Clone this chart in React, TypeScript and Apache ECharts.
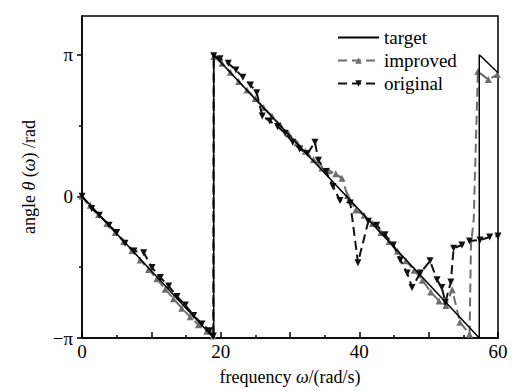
import React, { useEffect, useRef } from "react";
import * as echarts from "echarts";

const PI = Math.PI;

// target: ideal wrapped phase
const targetData: [number, number][] = [
  [0, 0], [19.0, -3.1416], [19.0, 3.1416], [57.3, -3.1416], [57.3, 3.1416], [60, 2.74],
];

// improved (grey, dashed, up triangles)
const improvedData: [number, number][] = [
  [0, 0], [1.2, -0.2], [2.4, -0.4], [3.6, -0.6], [4.8, -0.8], [6.0, -1.0], [7.2, -1.2],
  [8.4, -1.41], [9.6, -1.62], [10.8, -1.83], [12.0, -2.06], [13.2, -2.27], [14.4, -2.48],
  [15.6, -2.67], [16.8, -2.85], [18.0, -2.99], [18.9, -3.1],
  [19.0, 3.1], [20.2, 2.95], [21.4, 2.75], [22.6, 2.55], [23.8, 2.36], [25.0, 2.17],
  [26.2, 1.97], [27.4, 1.78], [28.6, 1.58], [29.8, 1.39], [31.0, 1.19], [32.2, 1.0],
  [33.4, 0.82], [34.6, 0.63], [35.6, 0.57], [36.6, 0.5], [37.5, 0.4], [38.3, 0.02],
  [39.5, -0.3], [40.7, -0.42], [41.9, -0.6], [43.1, -0.8], [44.3, -1.0], [45.5, -1.22],
  [46.7, -1.43], [47.9, -1.64], [49.1, -1.86], [50.3, -2.12], [51.5, -2.32], [52.5, -2.42],
  [53.4, -2.07], [54.5, -2.79], [55.9, -3.06], [56.1, -1.1], [56.5, -0.5], [57.1, 2.77],
  [58.6, 2.59], [59.9, 2.7],
];
const improvedNoMarker: number[] = [50, 51];

// original (black, dashed, down triangles)
const originalData: [number, number][] = [
  [0, 0], [1.4, -0.27], [2.5, -0.42], [3.9, -0.64], [5.0, -0.8], [6.2, -1.04], [7.5, -1.21],
  [8.9, -1.25], [10.1, -1.58], [11.3, -1.8], [12.5, -1.99], [13.7, -2.22], [14.9, -2.41],
  [16.1, -2.64], [17.3, -2.83], [18.4, -2.98], [18.95, -3.1],
  [19.0, 3.12], [19.9, 3.05], [21.1, 2.95], [22.2, 2.8], [23.2, 2.64], [24.3, 2.47],
  [25.2, 2.3], [26.0, 1.78], [27.1, 1.67], [28.2, 1.55], [29.3, 1.4], [30.4, 1.2],
  [31.4, 1.05], [32.5, 0.95], [33.6, 1.2], [34.1, 0.8], [35.2, 0.55], [36.2, 0.22],
  [37.2, -0.09], [38.7, -0.15], [39.8, -1.47], [41.3, -0.55], [42.5, -0.64], [43.7, -0.85],
  [44.9, -1.08], [45.9, -1.41], [46.9, -1.7], [47.6, -2.02], [48.8, -1.7], [50.2, -1.43],
  [51.2, -1.85], [51.9, -2.02], [52.4, -2.35], [53.2, -1.9], [53.6, -1.15], [54.8, -1.08],
  [55.9, -0.99], [57.4, -0.97], [58.8, -0.9], [60, -0.88],
];

const xLabelValues = [0, 20, 40, 60];
const xMajorTicks = [0, 10, 20, 30, 40, 50, 60];
const xMinorTicks = [5, 15, 25, 35, 45, 55];
const yLabelValues = [-PI, 0, PI];
const yMinorTicks = [-PI / 2, PI / 2];

const FONT = "'Liberation Serif', 'Times New Roman', serif";

export default function App() {
  const ref = useRef<HTMLDivElement>(null);
  useEffect(() => {
    if (!ref.current) return;
    const chart = echarts.init(ref.current, undefined, { renderer: "svg" });
    const yFmt = (v: number) =>
      Math.abs(v - PI) < 1e-6 ? "π" : Math.abs(v + PI) < 1e-6 ? "−π" : "0";
    const rich = { i: { fontStyle: "italic", fontSize: 18, fontFamily: FONT, color: "#000" } };
    chart.setOption({
      animation: false,
      backgroundColor: "#fff",
      textStyle: { fontFamily: FONT },
      grid: { left: 82, right: 22, top: 16, bottom: 50, show: true, borderColor: "#000", borderWidth: 1.5 },
      legend: {
        left: 337,
        top: 28,
        orient: "vertical",
        padding: 0,
        itemWidth: 41,
        itemHeight: 8,
        itemGap: 4,
        data: [
          { name: "target", itemStyle: { opacity: 0 } },
          { name: "improved" },
          { name: "original" },
        ],
        textStyle: { fontFamily: FONT, fontSize: 19, color: "#000", lineHeight: 19 },
      },
      xAxis: [
        {
          type: "value",
          min: 0,
          max: 60,
          interval: 10,
          splitLine: { show: false },
          axisLine: { onZero: false, lineStyle: { color: "#000", width: 1.5 } },
          axisTick: { inside: true, length: 6, customValues: xMajorTicks, lineStyle: { color: "#000", width: 1.5 } },
          axisLabel: { customValues: xLabelValues, fontSize: 19, color: "#000", fontFamily: FONT, margin: 4 },
          name: "frequency {i|ω}/(rad/s)",
          nameLocation: "middle",
          nameGap: 30,
          nameTextStyle: { fontSize: 18, color: "#000", fontFamily: FONT, rich },
        },
        {
          type: "value",
          min: 0,
          max: 60,
          position: "bottom",
          splitLine: { show: false },
          axisLine: { show: false, onZero: false },
          axisTick: { inside: true, length: 3, customValues: xMinorTicks, lineStyle: { color: "#000", width: 1.5 } },
          axisLabel: { show: false },
        },
      ],
      yAxis: [
        {
          type: "value",
          min: -PI,
          max: 4,
          splitLine: { show: false },
          axisLine: { onZero: false, lineStyle: { color: "#000", width: 1.5 } },
          axisTick: { inside: false, length: 5, customValues: yLabelValues, lineStyle: { color: "#000", width: 1.5 } },
          axisLabel: { customValues: yLabelValues, formatter: yFmt, fontSize: 19, color: "#000", fontFamily: FONT, margin: 9 },
          name: "angle {i|θ} ({i|ω}) /rad",
          nameLocation: "middle",
          nameGap: 44,
          nameTextStyle: { fontSize: 18, color: "#000", fontFamily: FONT, rich },
        },
        {
          type: "value",
          min: -PI,
          max: 4,
          position: "left",
          splitLine: { show: false },
          axisLine: { show: false, onZero: false },
          axisTick: { inside: false, length: 3, customValues: yMinorTicks, lineStyle: { color: "#000", width: 1.5 } },
          axisLabel: { show: false },
        },
      ],
      series: [
        {
          name: "improved",
          type: "line",
          data: improvedData.map((p, i) =>
            improvedNoMarker.includes(i) ? { value: p, symbol: "none" } : { value: p }
          ),
          symbol: "triangle",
          symbolSize: 7,
          showAllSymbol: true,
          lineStyle: { color: "#6e6e6e", width: 2, type: [9, 5] },
          itemStyle: { color: "#6e6e6e" },
          z: 2,
        },
        {
          name: "original",
          type: "line",
          data: originalData,
          symbol: "triangle",
          symbolRotate: 180,
          symbolSize: 7,
          showAllSymbol: true,
          lineStyle: { color: "#111", width: 2, type: [9, 5] },
          itemStyle: { color: "#111" },
          z: 3,
        },
        {
          name: "target",
          type: "line",
          data: targetData,
          symbol: "none",
          lineStyle: { color: "#000", width: 1.5 },
          itemStyle: { color: "#000" },
          z: 4,
        },
      ],
    });
    return () => chart.dispose();
  }, []);
  return <div ref={ref} style={{ position: "absolute", left: 0, top: 0, width: 520, height: 391 }} />;
}
